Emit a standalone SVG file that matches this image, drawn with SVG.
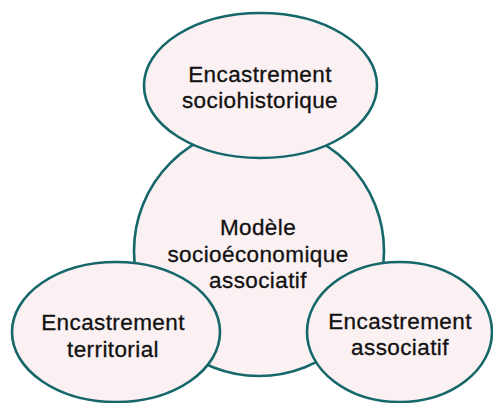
<svg xmlns="http://www.w3.org/2000/svg" width="493" height="403" viewBox="0 0 493 403">
<style>
.n{fill:#fbf0f2;stroke:#16676a;stroke-width:2.6}
.t{font-family:"Liberation Sans",Arial,sans-serif;font-size:22.5px;letter-spacing:0.4px;fill:#111;stroke:#111;stroke-width:0.3;text-anchor:middle}
</style>
<rect width="493" height="403" fill="#fff"/>
<g id="connectors"></g>
<g id="modele">
<circle class="n" cx="259" cy="251" r="125"/>
<text class="t" x="258" y="235">Modèle</text>
<text class="t" x="258" y="262">socioéconomique</text>
<text class="t" x="258" y="288">associatif</text>
</g>
<g id="sociohistorique">
<ellipse class="n" cx="260.5" cy="85.5" rx="116.5" ry="72.5"/>
<text class="t" x="260" y="82">Encastrement</text>
<text class="t" x="260" y="108">sociohistorique</text>
</g>
<g id="territorial">
<ellipse class="n" cx="116" cy="332" rx="104" ry="70"/>
<text class="t" x="113" y="330">Encastrement</text>
<text class="t" x="113" y="357">territorial</text>
</g>
<g id="associatif">
<ellipse class="n" cx="399.5" cy="332" rx="92.5" ry="70"/>
<text class="t" x="400" y="329">Encastrement</text>
<text class="t" x="400" y="355">associatif</text>
</g>
</svg>
